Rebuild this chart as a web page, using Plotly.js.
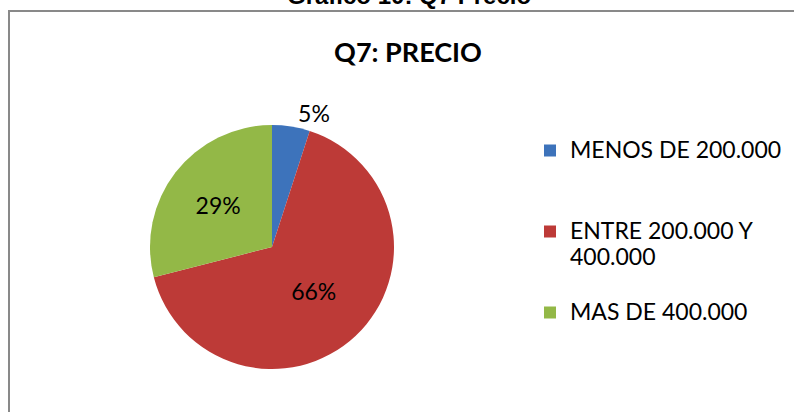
<!DOCTYPE html>
<html>
<head>
<meta charset="utf-8">
<script src="https://cdn.plot.ly/plotly-3.0.1.min.js"></script>
<style>
  html, body { margin: 0; padding: 0; background: #ffffff; }
  #chart { width: 794px; height: 412px; }
</style>
</head>
<body>
<div id="chart"></div>
<script>
// ---- data ----
const categories = ['MENOS DE 200.000', 'ENTRE 200.000 Y|400.000', 'MAS DE 400.000'];
const values = [5, 66, 29];
const sliceColors = ['#3D73BB', '#BD3A37', '#93B847'];
const chartTitle = 'Q7: PRECIO';
const figureCaption = 'Gráfico 10: Q7 Precio';

// ---- legend label layout (blank lines keep the symbol on the first text line) ----
const NB = '\u00a0';
function legendLabel(cat) {
  const parts = cat.split('|').map(p => '<span style="font-size:23px">' + p + '</span>');
  if (parts.length === 1) return [NB, parts[0], NB].join('<br>');
  return [NB].concat(parts).join('<br>');
}
const labels = categories.map(legendLabel);

const labelFont = { family: 'Lato, sans-serif', size: 23, color: '#000000' };

const trace = {
  type: 'pie',
  labels: labels,
  values: values,
  sort: false,
  direction: 'clockwise',
  rotation: 0,
  marker: { colors: sliceColors, line: { width: 0 } },
  texttemplate: '%{percent:.0%}',
  textposition: ['outside', 'inside', 'inside'],
  insidetextorientation: 'horizontal',
  textfont: labelFont,
  outsidetextfont: labelFont,
  insidetextfont: labelFont,
  domain: { x: [150 / 794, 394 / 794], y: [1 - 369 / 412, 1 - 125 / 412] },
  hoverinfo: 'label+percent',
  automargin: false
};

const layout = {
  width: 794,
  height: 412,
  margin: { l: 0, r: 0, t: 0, b: 0 },
  paper_bgcolor: '#ffffff',
  plot_bgcolor: '#ffffff',
  title: {
    text: '<b>' + chartTitle + '</b>',
    font: { family: 'Lato, sans-serif', size: 27, color: '#000000' },
    x: 408 / 794, xanchor: 'center',
    y: 1 - 53 / 412, yanchor: 'middle',
    xref: 'paper', yref: 'container'
  },
  showlegend: true,
  legend: {
    x: 530 / 794, xanchor: 'left',
    y: 1 - 105 / 412, yanchor: 'top',
    font: { family: 'Lato, sans-serif', size: 20, color: '#000000' },
    bgcolor: 'rgba(0,0,0,0)',
    traceorder: 'normal'
  },
  shapes: [{
    type: 'rect', xref: 'paper', yref: 'paper',
    x0: 9 / 794, x1: 1.05, y0: -0.05, y1: 1 - 11 / 412,
    line: { color: '#898989', width: 2 }, fillcolor: 'rgba(0,0,0,0)'
  }],
  annotations: [{
    text: '<b>' + figureCaption + '</b>',
    xref: 'paper', yref: 'paper',
    x: 409 / 794, y: 1, xanchor: 'center', yanchor: 'bottom',
    yshift: -11, showarrow: false,
    font: { family: 'Liberation Sans, Arial, sans-serif', size: 24, color: '#000000' }
  }]
};

Plotly.newPlot('chart', [trace], layout, { displayModeBar: false, staticPlot: true });
</script>
</body>
</html>
